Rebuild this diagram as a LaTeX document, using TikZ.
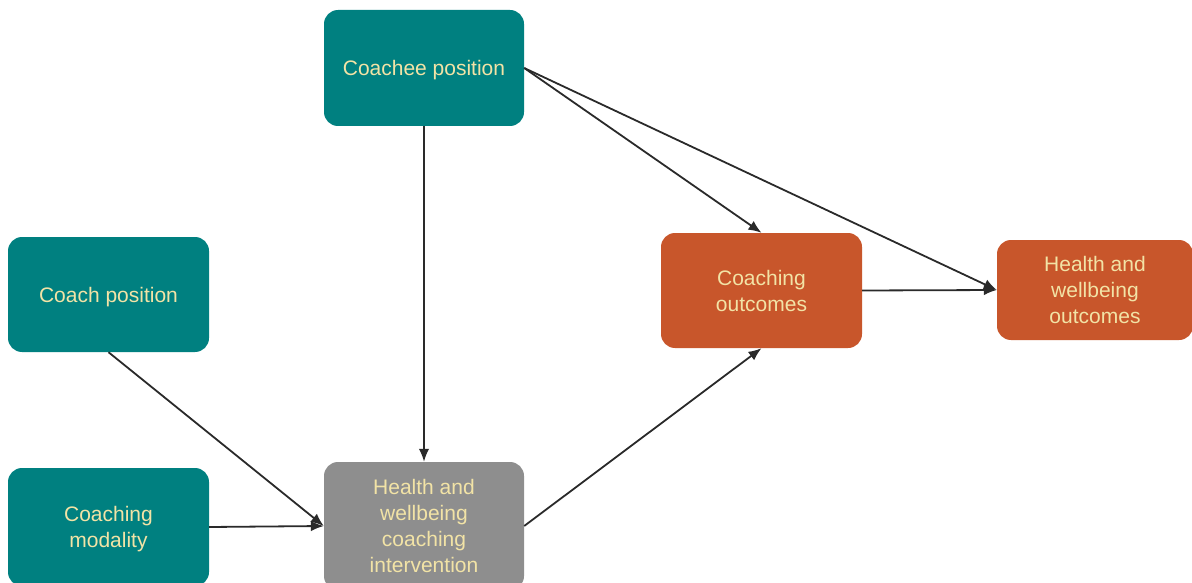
\documentclass[tikz,border=0pt]{standalone}
\usepackage{fontspec}
\setmainfont{Liberation Sans}
\usetikzlibrary{arrows.meta}
\definecolor{tealbox}{HTML}{008080}
\definecolor{orangebox}{HTML}{C8562B}
\definecolor{graybox}{HTML}{8E8E8E}
\definecolor{boxtext}{HTML}{F2E3A6}
\definecolor{arrowcol}{HTML}{2A2A2A}
\begin{document}
\begin{tikzpicture}[x=1pt,y=-1pt,
  box/.style={rectangle, rounded corners=14pt, align=center, text=boxtext,
    font=\fontsize{21}{25.8}\selectfont, inner sep=0pt, text depth=0pt},
  tealnode/.style={box, fill=tealbox},
  orangenode/.style={box, fill=orangebox},
  graynode/.style={box, fill=graybox},
  arr/.style={draw=arrowcol, line width=1.8pt, -{Latex[length=13pt,width=10.5pt]}}]
\useasboundingbox (0,0) rectangle (1192,583);
\clip (0,0) rectangle (1192,583);
\node[tealnode, minimum width=200pt, minimum height=116pt] (coachee) at (424,68) {Coachee position};
\node[tealnode, minimum width=201pt, minimum height=115pt] (coach) at (108.5,294.5) {Coach position};
\node[tealnode, minimum width=201pt, minimum height=118pt] (modality) at (108.5,527) {Coaching\\modality};
\node[graynode, minimum width=200pt, minimum height=128pt] (interv) at (424,526) {Health and\\wellbeing\\coaching\\intervention};
\node[orangenode, minimum width=201pt, minimum height=115pt] (outc) at (761.5,290.5) {Coaching\\outcomes};
\node[orangenode, minimum width=196pt, minimum height=100pt] (hw) at (1095,290) {Health and\\wellbeing\\outcomes};
\draw[arr] (coachee.south) -- (interv.north);
\draw[arr] (coachee.east) -- (outc.north);
\draw[arr] (coachee.east) -- (hw.west);
\draw[arr] (coach.south) -- (interv.west);
\draw[arr] (modality.east) -- (interv.west);
\draw[arr] (interv.east) -- (outc.south);
\draw[arr] (outc.east) -- (hw.west);
\end{tikzpicture}
\end{document}
